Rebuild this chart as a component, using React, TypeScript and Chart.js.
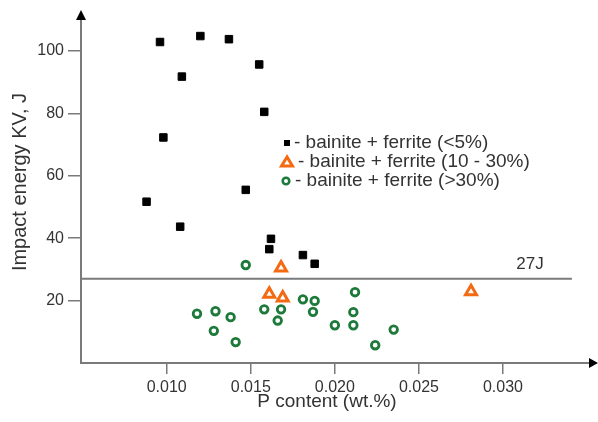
import { useEffect, useRef } from 'react';
import { Chart, registerables } from 'chart.js';

Chart.register(...registerables);

// ---- data ----
const lowFerriteP = [0.0096, 0.0120, 0.0137, 0.0155, 0.0109, 0.0158, 0.0098, 0.0147, 0.0088, 0.0108, 0.0162, 0.0161, 0.0181, 0.0188];
const lowFerriteKV = [102.9, 104.8, 103.8, 95.7, 91.8, 80.5, 72.3, 55.5, 51.7, 43.7, 39.8, 36.5, 34.6, 31.8];

const midFerriteP = [0.0168, 0.0161, 0.0169, 0.0281];
const midFerriteKV = [30.5, 22.1, 20.9, 22.9];

const highFerriteP = [0.0147, 0.0118, 0.0129, 0.0138, 0.0128, 0.0141, 0.0158, 0.0168, 0.0166, 0.0181, 0.0188, 0.0187, 0.0212, 0.0211, 0.0200, 0.0211, 0.0235, 0.0224];
const highFerriteKV = [31.4, 15.8, 16.6, 14.7, 10.3, 6.7, 17.2, 17.2, 13.6, 20.4, 19.9, 16.4, 22.7, 16.3, 12.1, 12.1, 10.7, 5.7];

const thresholdKV = 27;
const thresholdLabel = '27J';
const thresholdP = [0.0049, 0.0341];

const xTicks = [0.010, 0.015, 0.020, 0.025, 0.030];
const yTicks = [20, 40, 60, 80, 100];

const legendLabels = ['- bainite + ferrite (<5%)', '- bainite + ferrite (10 - 30%)', '- bainite + ferrite (>30%)'];
const xTitle = 'P content (wt.%)';
const yTitle = 'Impact energy KV, J';

const FONT = '"Liberation Sans", Arial, sans-serif';
const AXIS = '#7a7a7a';
const TEXT = '#333333';
const ORANGE = '#f36a12';
const GREEN = '#1d7a3a';

const toPoints = (xs: number[], ys: number[]) => xs.map((x, i) => ({ x, y: ys[i] }));

const overlay = {
  id: 'overlay',
  afterDraw(chart: any) {
    const { ctx, chartArea, scales } = chart;
    const ys = scales.y;
    ctx.save();
    // arrows
    ctx.fillStyle = '#000';
    ctx.beginPath();
    ctx.moveTo(chartArea.left, 10);
    ctx.lineTo(chartArea.left - 5, 20);
    ctx.lineTo(chartArea.left + 5, 20);
    ctx.closePath();
    ctx.fill();
    const ay = chartArea.bottom;
    ctx.beginPath();
    ctx.moveTo(598, ay);
    ctx.lineTo(589, ay - 5);
    ctx.lineTo(589, ay + 5);
    ctx.closePath();
    ctx.fill();

    // axis titles
    ctx.fillStyle = TEXT;
    ctx.textAlign = 'center';
    ctx.textBaseline = 'middle';
    ctx.font = `19px ${FONT}`;
    ctx.fillText(xTitle, 327, 402);
    ctx.save();
    ctx.translate(20, 182);
    ctx.rotate(-Math.PI / 2);
    ctx.font = `20px ${FONT}`;
    ctx.fillText(yTitle, 0, 0);
    ctx.restore();

    // 27J label
    ctx.font = `17px ${FONT}`;
    ctx.fillText(thresholdLabel, 530, ys.getPixelForValue(thresholdKV) - 14);

    // legend
    const mx = 287;
    const rows = [143, 162, 181];
    ctx.textAlign = 'left';
    ctx.font = `19px ${FONT}`;
    // square
    ctx.fillStyle = '#000';
    ctx.fillRect(mx - 3, rows[0] - 3, 6, 6);
    ctx.fillStyle = TEXT;
    ctx.fillText(legendLabels[0], mx + 7, rows[0]);
    // triangle
    ctx.strokeStyle = ORANGE;
    ctx.lineWidth = 3;
    ctx.fillStyle = '#fff';
    ctx.beginPath();
    ctx.moveTo(mx, rows[1] - 5);
    ctx.lineTo(mx - 5.5, rows[1] + 4);
    ctx.lineTo(mx + 5.5, rows[1] + 4);
    ctx.closePath();
    ctx.fill();
    ctx.stroke();
    ctx.fillStyle = TEXT;
    ctx.fillText(legendLabels[1], mx + 11, rows[1]);
    // circle
    ctx.strokeStyle = GREEN;
    ctx.lineWidth = 2.6;
    ctx.beginPath();
    ctx.arc(mx - 1, rows[2], 3.3, 0, Math.PI * 2);
    ctx.stroke();
    ctx.fillStyle = TEXT;
    ctx.fillText(legendLabels[2], mx + 8, rows[2]);
    ctx.restore();
  },
};

export default function App() {
  const ref = useRef<HTMLCanvasElement | null>(null);
  useEffect(() => {
    if (!ref.current) return;
    Chart.defaults.font.family = FONT;
    const chart = new Chart(ref.current, {
      type: 'scatter',
      data: {
        datasets: [
          {
            label: '27J',
            type: 'line',
            data: toPoints(thresholdP, [thresholdKV, thresholdKV]),
            borderColor: AXIS,
            borderWidth: 2,
            pointRadius: 0,
            fill: false,
          } as any,
          {
            label: legendLabels[0],
            data: toPoints(lowFerriteP, lowFerriteKV),
            pointStyle: 'rect',
            pointRadius: 5.3,
            borderWidth: 1,
            backgroundColor: '#000',
            borderColor: '#000',
          },
          {
            label: legendLabels[1],
            data: toPoints(midFerriteP, midFerriteKV),
            pointStyle: 'triangle',
            pointRadius: 6.3,
            borderWidth: 3,
            backgroundColor: '#fff',
            borderColor: ORANGE,
          },
          {
            label: legendLabels[2],
            data: toPoints(highFerriteP, highFerriteKV),
            pointStyle: 'circle',
            pointRadius: 3.8,
            borderWidth: 2.8,
            backgroundColor: '#fff',
            borderColor: GREEN,
          },
        ],
      },
      options: {
        responsive: false,
        animation: false,
        layout: { padding: { top: 13, right: 1, left: 0, bottom: 0 } },
        plugins: { legend: { display: false }, tooltip: { enabled: false } },
        scales: {
          x: {
            type: 'linear',
            min: 0.0049,
            max: 0.0351,
            afterBuildTicks: (s: any) => { s.ticks = xTicks.map((v) => ({ value: v })); },
            afterFit: (s: any) => { s.height = 59; },
            grid: { drawOnChartArea: false, drawTicks: true, tickLength: 11, color: AXIS, lineWidth: 1.5 },
            border: { display: true, color: AXIS, width: 2 },
            ticks: { color: TEXT, font: { size: 16 }, padding: 4, maxRotation: 0, callback: (v: any) => Number(v).toFixed(3) },
            title: { display: false },
          },
          y: {
            type: 'linear',
            min: 0,
            max: 112,
            afterBuildTicks: (s: any) => { s.ticks = yTicks.map((v) => ({ value: v })); },
            afterFit: (s: any) => { s.width = 81; },
            grid: { drawOnChartArea: false, drawTicks: true, tickLength: 13, color: AXIS, lineWidth: 1.5 },
            border: { display: true, color: AXIS, width: 2 },
            ticks: { color: TEXT, font: { size: 16 }, padding: 4 },
            title: { display: false },
          },
        },
      },
      plugins: [overlay],
    });
    return () => chart.destroy();
  }, []);
  return (
    <div style={{ position: 'absolute', left: 0, top: 0, width: 598, height: 422, background: '#fff' }}>
      <canvas ref={ref} width={598} height={422} style={{ display: 'block' }} />
    </div>
  );
}
